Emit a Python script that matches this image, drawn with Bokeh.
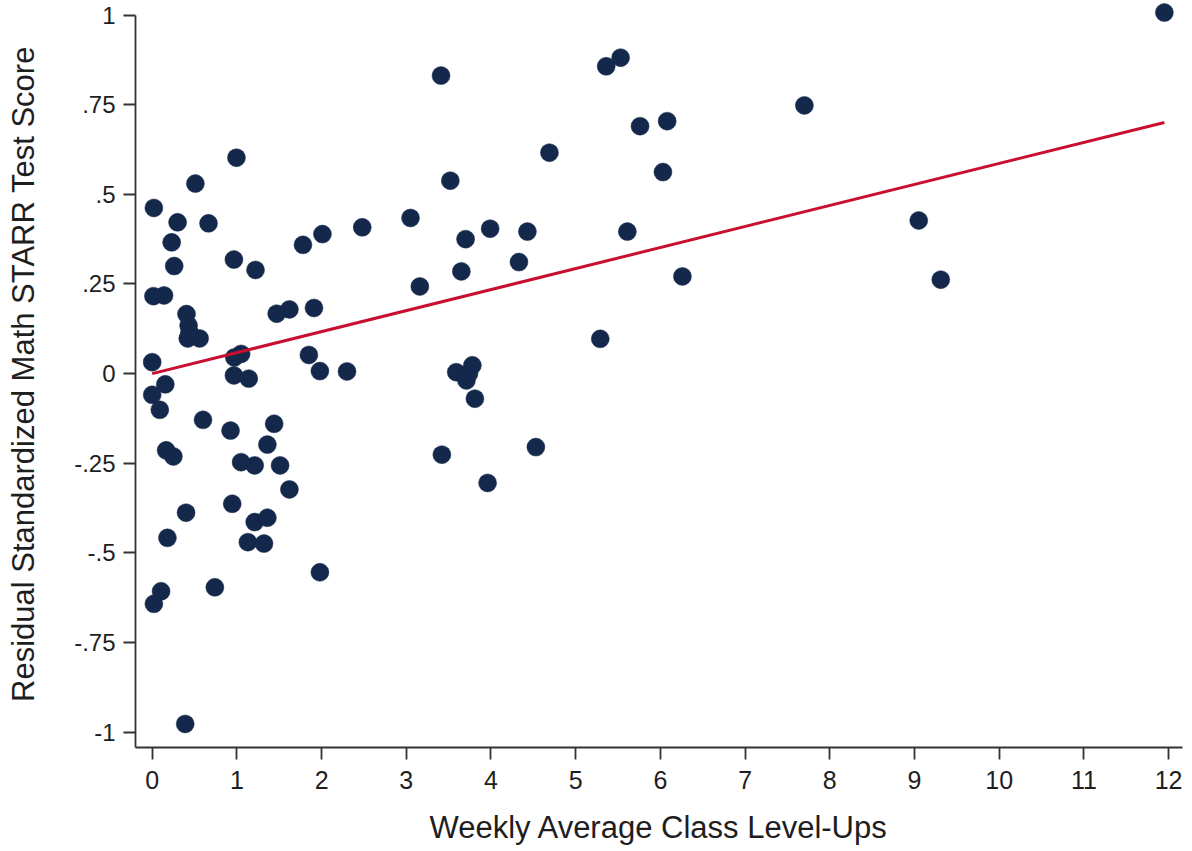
from bokeh.plotting import figure
from bokeh.models import Range1d, FixedTicker, ColumnDataSource
from bokeh.embed import file_html
from bokeh.resources import INLINE

# ---- data ----
level_ups = [
    0.995, 0.51, 0.02, 0.30, 0.665, 0.23, 0.26, 0.965, 1.22, 1.78, 2.01, 2.48,
    0.015, 0.14, 0.405, 0.43, 0.42, 0.56, 0.44, 1.47, 1.62, 1.91, 1.85, 1.98,
    2.30, 0.97, 1.05, 0.965, 1.14, 0.0, 0.155,
    0.0, 0.09, 0.60, 0.925, 1.44, 1.36, 0.165, 0.25, 1.05, 1.21, 1.51, 1.62,
    0.945, 0.40, 1.21, 1.36, 0.18, 1.13, 1.32, 1.98, 0.74, 0.105, 0.02, 0.39,
    3.41, 5.36, 5.53, 7.70, 5.76, 6.08, 4.69, 3.52, 6.03, 3.05, 3.70, 3.99,
    4.43, 5.61, 3.65, 4.33, 6.26, 3.16, 5.29, 3.59, 3.78, 3.71, 3.74, 3.81,
    3.42, 4.53, 3.96, 9.05, 9.31, 11.95,
]
residual_score = [
    0.602, 0.530, 0.462, 0.422, 0.419, 0.366, 0.300, 0.318, 0.289, 0.359, 0.389, 0.408,
    0.216, 0.218, 0.166, 0.134, 0.098, 0.098, 0.115, 0.167, 0.179, 0.183, 0.052, 0.007,
    0.006, 0.045, 0.055, -0.005, -0.014, 0.032, -0.030,
    -0.059, -0.101, -0.129, -0.159, -0.140, -0.198, -0.214, -0.231, -0.247, -0.256, -0.256, -0.323,
    -0.363, -0.388, -0.414, -0.402, -0.458, -0.470, -0.474, -0.554, -0.596, -0.607, -0.642, -0.977,
    0.831, 0.857, 0.881, 0.748, 0.690, 0.704, 0.616, 0.538, 0.562, 0.434, 0.375, 0.404,
    0.396, 0.396, 0.285, 0.311, 0.271, 0.243, 0.097, 0.004, 0.023, -0.019, 0.000, -0.070,
    -0.226, -0.205, -0.305, 0.427, 0.262, 1.007,
]
fit_intercept = 0.0
fit_slope = 0.0586

x_ticks = [0, 1, 2, 3, 4, 5, 6, 7, 8, 9, 10, 11, 12]
y_ticks = [-1.0, -0.75, -0.5, -0.25, 0.0, 0.25, 0.5, 0.75, 1.0]
y_tick_labels = ["-1", "-.75", "-.5", "-.25", "0", ".25", ".5", ".75", "1"]

x_title = "Weekly Average Class Level-Ups"
y_title = "Residual Standardized Math STARR Test Score"

# ---- figure ----
FONT = "Liberation Sans"
AX = "#333333"

p = figure(width=1192, height=851, output_backend="svg", toolbar_location=None,
           x_range=Range1d(-0.197, 12.164), y_range=Range1d(-1.0427, 1.0405),
           min_border_left=135, min_border_right=10, min_border_top=0,
           min_border_bottom=104)
p.outline_line_color = None
p.background_fill_color = "white"
p.border_fill_color = "white"
p.xgrid.visible = False
p.ygrid.visible = False

fx = [min(level_ups), max(level_ups)]
fy = [fit_intercept + fit_slope * v for v in fx]

src = ColumnDataSource(dict(x=level_ups, y=residual_score))
p.scatter("x", "y", source=src, size=18, fill_color="#14284b",
          line_color="#14284b", line_width=0.5)
p.line(fx, fy, line_color="#c8102e", line_width=3)

for ax in (p.xaxis[0], p.yaxis[0]):
    ax.axis_line_color = AX
    ax.axis_line_width = 1.8
    ax.major_tick_line_color = AX
    ax.major_tick_line_width = 1.8
    ax.major_tick_in = 0
    ax.major_tick_out = 12
    ax.minor_tick_line_color = None
    ax.major_label_text_font = FONT
    ax.major_label_text_color = "#1e1e1e"
    ax.axis_label_text_font = FONT
    ax.axis_label_text_font_size = "31px"
    ax.axis_label_text_font_style = "normal"
    ax.axis_label_text_color = "#1e1e1e"

p.xaxis[0].ticker = FixedTicker(ticks=x_ticks)
p.xaxis[0].major_label_text_font_size = "25px"
p.xaxis[0].major_label_standoff = 11
p.xaxis[0].axis_label = x_title
p.xaxis[0].axis_label_standoff = 18

p.yaxis[0].ticker = FixedTicker(ticks=y_ticks)
p.yaxis[0].major_label_text_font_size = "24px"
p.yaxis[0].major_label_overrides = {t: l for t, l in zip(y_ticks, y_tick_labels)}
p.yaxis[0].major_label_standoff = 8
p.yaxis[0].axis_label = y_title
p.yaxis[0].axis_label_standoff = 30
p.yaxis[0].bounds = (-1.0427, 1.0)

open("out.html", "w").write(file_html(p, INLINE))
